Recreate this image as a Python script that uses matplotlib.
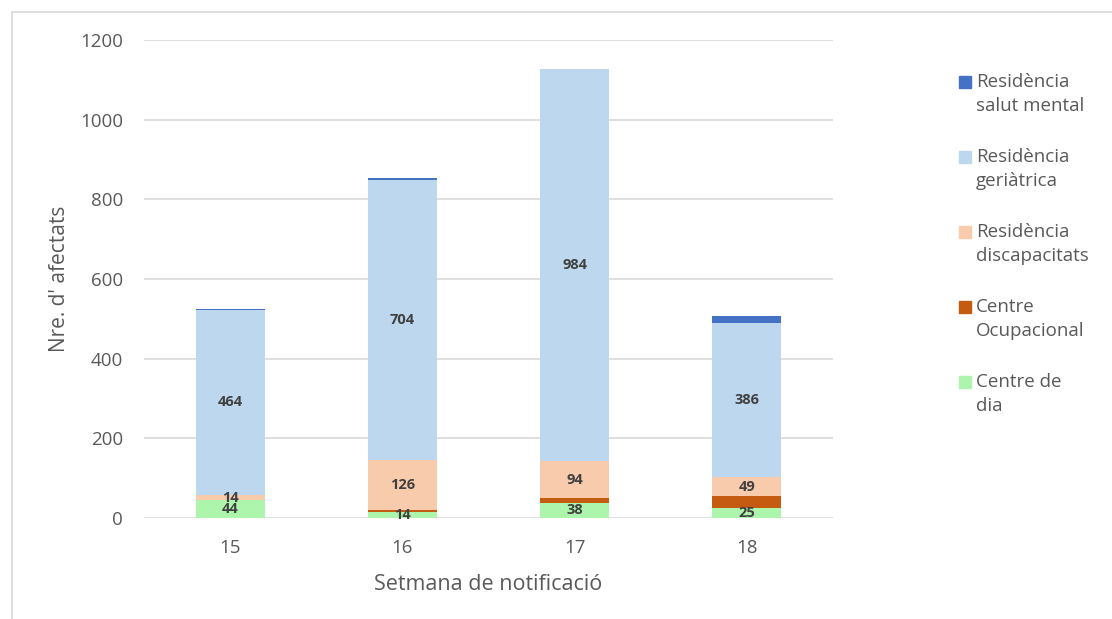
import numpy as np
import matplotlib
matplotlib.use("Agg")
import matplotlib.pyplot as plt
from matplotlib.patches import Rectangle
from matplotlib.lines import Line2D

# ── Dades ─────────────────────────────────────
setmanes = ["15", "16", "17", "18"]
centre_dia = [44, 14, 38, 25]
centre_ocupacional = [0, 5, 11, 29]
res_discapacitats = [14, 126, 94, 49]
res_geriatrica = [464, 704, 984, 386]
res_salut_mental = [2, 4, 0, 19]

series = [
    ("Centre de\ndia", centre_dia, "#adf5ad", True),
    ("Centre\nOcupacional", centre_ocupacional, "#c55a11", False),
    ("Residència\ndiscapacitats", res_discapacitats, "#f8cbad", True),
    ("Residència\ngeriàtrica", res_geriatrica, "#bdd7ee", True),
    ("Residència\nsalut mental", res_salut_mental, "#4472c4", False),
]

plt.rcParams["font.family"] = ["Open Sans", "DejaVu Sans"]
txt_col = "#595959"
W, H = 1112, 619

fig = plt.figure(figsize=(W / 100, H / 100), dpi=100)
ax = fig.add_axes([144 / W, 1 - 518 / H, (833 - 144) / W, (518 - 40) / H])

x = np.arange(len(setmanes))
bottom = np.zeros(len(setmanes))
for name, vals, col, show in series:
    vals = np.array(vals, dtype=float)
    ax.bar(x, vals, 0.4, bottom=bottom, color=col, zorder=3)
    if show:
        for xi, b, v in zip(x, bottom, vals):
            ax.text(xi, b + v / 2, f"{int(v)}", ha="center", va="center",
                    fontsize=10.5, fontweight="bold", color="#404040", zorder=4)
    bottom += vals

ax.set_xlim(-0.5, 3.5)
ax.set_ylim(0, 1200)
ax.set_yticks(range(0, 1201, 200))
ax.set_xticks(x)
ax.set_xticklabels(setmanes)
ax.grid(axis="y", color="#d9d9d9", linewidth=1.2, zorder=0)
for s in ax.spines.values():
    s.set_visible(False)
ax.tick_params(length=0, labelsize=13.5, colors=txt_col)
ax.tick_params(axis="x", pad=15)
ax.tick_params(axis="y", pad=15)
ax.set_ylabel("Nre. d' afectats", fontsize=15, color=txt_col)
ax.yaxis.set_label_coords((70 - 144) / 689, 0.5)
ax.set_xlabel("Setmana de notificació", fontsize=15.5, color=txt_col, labelpad=12)

# ── Llegenda (manual, quadrat a la primera línia) ──
for i, (name, vals, col, show) in enumerate(reversed(series)):
    ytop = 73 + i * 75
    fig.patches.append(Rectangle((959 / W, 1 - (ytop + 15) / H), 12 / W, 12 / H,
                                 transform=fig.transFigure, color=col))
    fig.text(976 / W, 1 - ytop / H, name, fontsize=13.5, color=txt_col,
             va="top", ha="left", linespacing=1.4)

# vora del gràfic
fig.add_artist(Line2D([12 / W, 12 / W], [0, 1 - 12 / H], color="#d9d9d9", lw=1.2))
fig.add_artist(Line2D([12 / W, 1], [1 - 12 / H, 1 - 12 / H], color="#d9d9d9", lw=1.2))

fig.savefig("out.png", dpi=100)
